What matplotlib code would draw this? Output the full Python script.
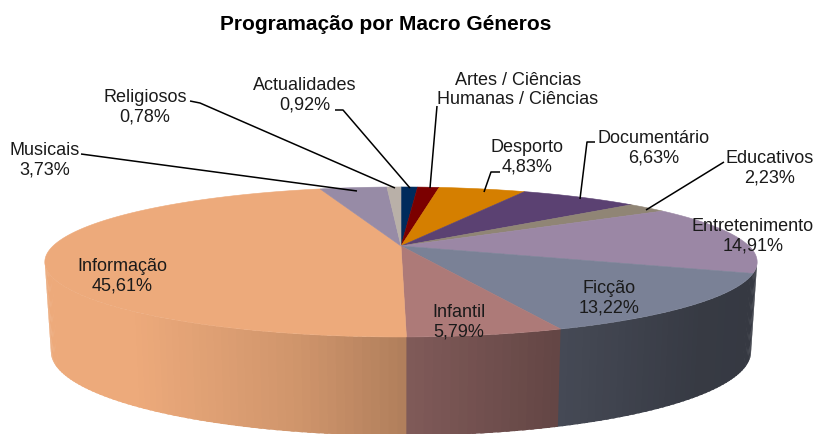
import numpy as np
import matplotlib
matplotlib.use('Agg')
import matplotlib.pyplot as plt
from matplotlib.colors import to_rgb

# Programacao por macro generos, clockwise from 12 o'clock
generos = ['Actualidades', 'Artes / Ciências\nHumanas / Ciências', 'Desporto', 'Documentário',
           'Educativos', 'Entretenimento', 'Ficção', 'Infantil', 'Informação', 'Musicais', 'Religiosos']
valores = [0.92, 1.2, 4.83, 6.63, 2.23, 14.91, 13.22, 5.79, 45.61, 3.73, 0.78]
mostra_valor = [True, False, True, True, True, True, True, True, True, True, True]
cores = ['#002b5c', '#7b0000', '#d57f00', '#5b4172', '#908575', '#9b87a5',
         '#7a8196', '#ad7a78', '#edaa7b', '#978ba6', '#b9b0a8']
# the reference shows no purple on the wall, ficcao's dark runs up to the edge
cores_parede = ['#002b5c', '#7b0000', '#d57f00', '#5b4172', '#908575', '#7a8196',
                '#7a8196', '#ad7a78', '#edaa7b', '#978ba6', '#b9b0a8']

# label centres and leader lines, in pixels of the picture
label_x = [305, 518, 527, 654, 770, 753, 609, 459, 122, 45, 145]
label_y = [95, 90, 157, 148, 168, 236, 298, 322, 276, 160, 107]
leaders = [[(335, 111), (343, 111), (410, 189)],
           [(437, 107), (430, 189)],
           [(500, 173), (491, 173), (484, 193)],
           [(595, 143), (587, 143), (580, 200)],
           [(724, 163), (646, 211)],
           None, None, None, None,
           [(81, 155), (357, 192)],
           [(190, 102), (200, 104), (395, 189)]]

titulo = 'Programação por Macro Géneros'

# perspective of the disc
P = 0.213
CX = 401


def project(theta, top=True):
    u, v = np.sin(theta), np.cos(theta)
    if top:
        r, k, y0 = 348, 71.6, 247
    else:
        r, k, y0 = 342, 80, 335
    return CX + r * u / (1 + P * v), y0 - k * v / (1 + P * v)


def shade(x):
    return np.interp(x, [50, 130, 300, 405, 560, 700, 760], [1.0, 1.0, 0.87, 0.74, 0.57, 0.45, 0.44])


fig = plt.figure(figsize=(8.14, 4.35), dpi=100)
ax = fig.add_axes([0, 0, 1, 1])
ax.set_xlim(0, 814)
ax.set_ylim(435, 0)
ax.axis('off')

fracao = np.array(valores) / sum(valores)
fim = np.cumsum(fracao) * 2 * np.pi
inicio = fim - fracao * 2 * np.pi

# side wall first, only between the two widest points of the disc
canto = np.arccos(-P)
for a, b, cor in zip(inicio, fim, cores_parede):
    lo, hi = max(a, canto), min(b, 2 * np.pi - canto)
    if hi <= lo:
        continue
    n = max(int((hi - lo) / 0.02), 1)
    arestas = np.linspace(lo, hi, n + 1)
    for t0, t1 in zip(arestas[:-1], arestas[1:]):
        # a bit over the next strip so no seam shows, next slice paints over it
        ts = np.linspace(t0, t1 + 0.01, 4)
        xt, yt = project(ts, True)
        xb, yb = project(ts, False)
        m = float(shade(xt.mean()))
        c = tuple(np.array(to_rgb(cor)) * m)
        ax.fill(np.r_[xt, xb[::-1]], np.r_[yt, yb[::-1]], color=c, lw=0)

# top face
for a, b, cor in zip(inicio, fim, cores):
    ts = np.linspace(a, b, max(int((b - a) / 0.01), 2))
    x, y = project(ts, True)
    ax.fill(np.r_[CX, x], np.r_[247, y], color=cor, lw=0.4)

for pts in leaders:
    if pts:
        ax.plot([p[0] for p in pts], [p[1] for p in pts], color='black', lw=1.1, solid_capstyle='butt')

for nome, v, mostra, lx, ly in zip(generos, valores, mostra_valor, label_x, label_y):
    txt = nome
    if mostra:
        txt = nome + '\n' + f'{v:.2f}'.replace('.', ',') + '%'
    ax.text(lx, ly, txt, ha='center', va='center', fontsize=13, family='Liberation Sans',
            color='#1a1a1a', linespacing=1.18)

ax.text(386, 25, titulo, ha='center', va='center', fontsize=15, fontweight='bold',
        family='Liberation Sans', color='black')

fig.savefig('out.png', dpi=100)
